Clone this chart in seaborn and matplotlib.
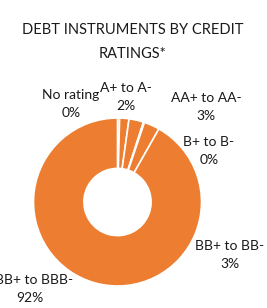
import matplotlib
matplotlib.use("Agg")
import matplotlib.pyplot as plt
import seaborn as sns

categories = ["No rating", "A+ to A-", "AA+ to AA-", "B+ to B-", "BB+ to BB-", "BBB+ to BBB-"]
values = [0.4, 1.8, 2.8, 0.2, 3.0, 91.8]
pct_labels = ["0%", "2%", "3%", "0%", "3%", "92%"]
title = "DEBT INSTRUMENTS BY CREDIT\nRATINGS*"

sns.set_theme(style="white")
plt.rcParams['font.family'] = ['Lato', 'DejaVu Sans']

W, H = 267, 308
fig = plt.figure(figsize=(W / 100, H / 100), dpi=100)
ax = fig.add_axes([33.5 / W, 22 / H, 168 / W, 168 / H])
color = "#ED7D31"
ax.pie(values, colors=[color] * len(values), startangle=90, counterclock=False,
       radius=1.0, wedgeprops=dict(width=0.6, edgecolor="white", linewidth=1.2))
ax.set_xlim(-1, 1)
ax.set_ylim(-1, 1)
ax.set_aspect("equal")
ax.axis("off")

fig.text(133 / W, 1 - 42 / H, title, ha="center", va="center", fontsize=10.5,
         color="#1a1a1a", linespacing=1.9)

label_pos = [(71, 104), (126, 97), (206, 107), (209, 151), (230, 255), (30, 289)]
for cat, pct, (x, y) in zip(categories, pct_labels, label_pos):
    fig.text(x / W, 1 - y / H, f"{cat}\n{pct}", ha="center", va="center",
             fontsize=10, color="#1a1a1a", linespacing=1.65)

fig.savefig("out.png", dpi=100)
